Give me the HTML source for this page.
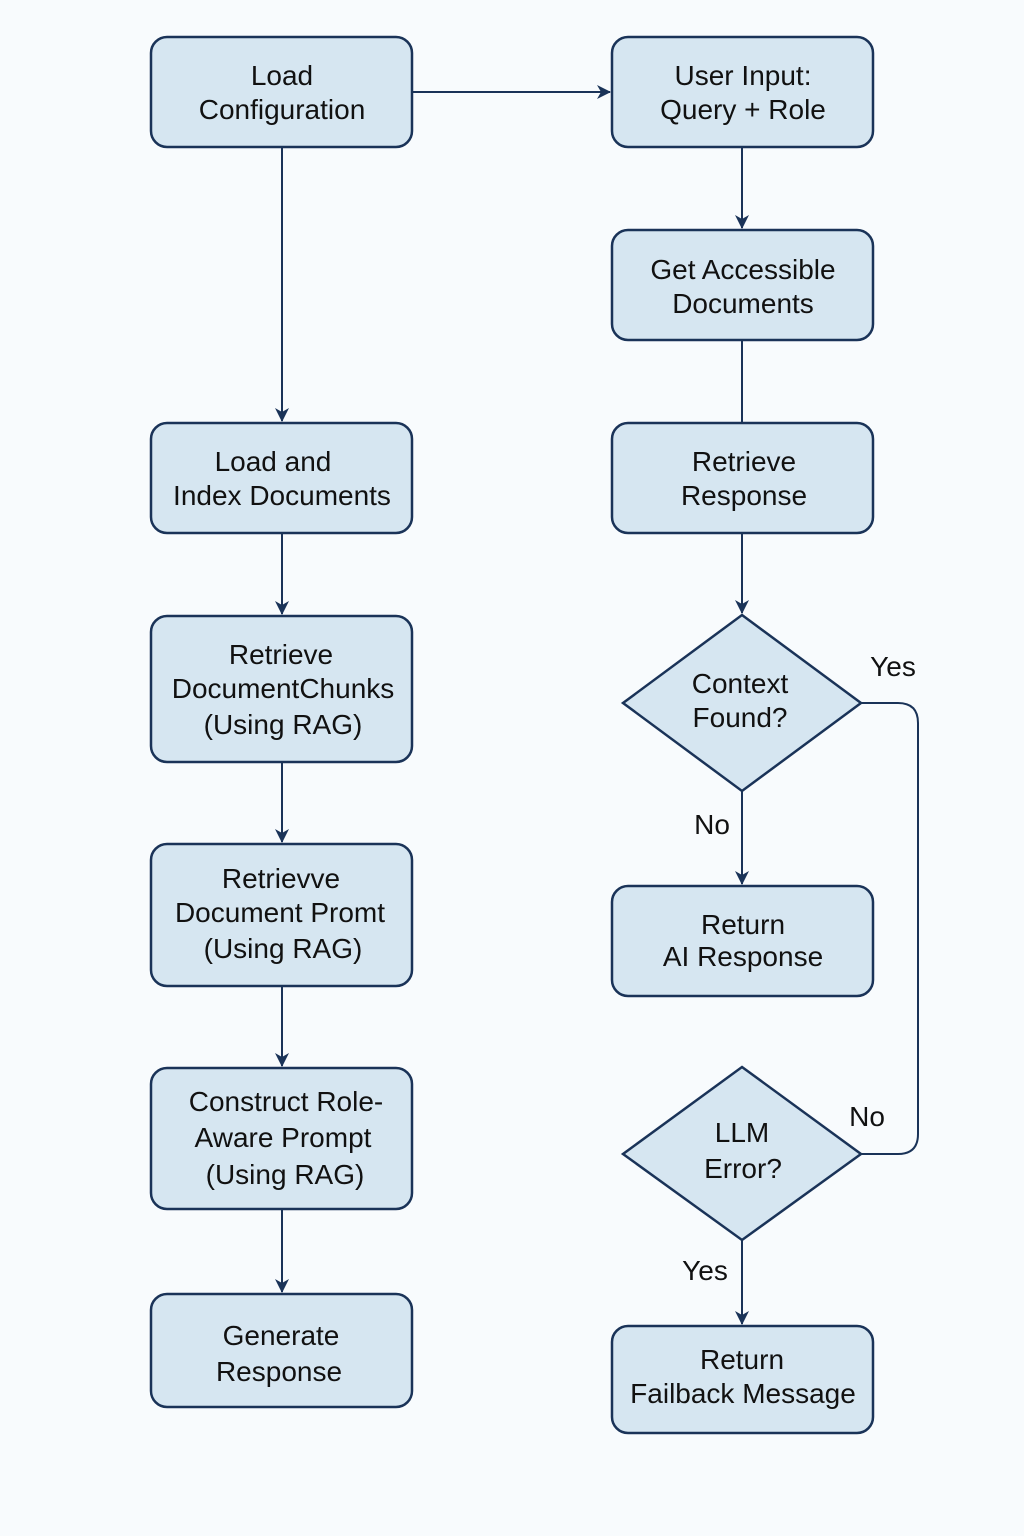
<!DOCTYPE html>
<html><head><style>
body{margin:0;background:#f8fbfd}
svg{display:block}
text{font-family:"Liberation Sans",sans-serif;font-size:28px;fill:#111;text-anchor:middle}
.b{fill:#d6e6f1;stroke:#1a3358;stroke-width:2.5}
.l{fill:none;stroke:#1a3358;stroke-width:2}
</style></head><body>
<svg width="1024" height="1536" viewBox="0 0 1024 1536">
<defs><marker id="a" markerWidth="14" markerHeight="14" refX="13" refY="7" orient="auto" markerUnits="userSpaceOnUse"><path d="M0,0 L14,7 L0,14 L4,7 Z" fill="#1a3358"/></marker></defs>
<rect class="b" x="151" y="37" width="261" height="110" rx="16"/>
<rect class="b" x="151" y="423" width="261" height="110" rx="16"/>
<rect class="b" x="151" y="616" width="261" height="146" rx="16"/>
<rect class="b" x="151" y="844" width="261" height="142" rx="16"/>
<rect class="b" x="151" y="1068" width="261" height="141" rx="16"/>
<rect class="b" x="151" y="1294" width="261" height="113" rx="16"/>
<rect class="b" x="612" y="37" width="261" height="110" rx="16"/>
<rect class="b" x="612" y="230" width="261" height="110" rx="16"/>
<rect class="b" x="612" y="423" width="261" height="110" rx="16"/>
<rect class="b" x="612" y="886" width="261" height="110" rx="16"/>
<rect class="b" x="612" y="1326" width="261" height="107" rx="16"/>
<polygon class="b" points="742,615 861,703 742,791 623,703"/>
<polygon class="b" points="742,1067 861,1154 742,1240 623,1154"/>
<path class="l" d="M412,92 H610" marker-end="url(#a)"/>
<path class="l" d="M282,147 V421" marker-end="url(#a)"/>
<path class="l" d="M282,533 V614" marker-end="url(#a)"/>
<path class="l" d="M282,762 V842" marker-end="url(#a)"/>
<path class="l" d="M282,986 V1066" marker-end="url(#a)"/>
<path class="l" d="M282,1209 V1292" marker-end="url(#a)"/>
<path class="l" d="M742,147 V228" marker-end="url(#a)"/>
<path class="l" d="M742,340 V423"/>
<path class="l" d="M742,533 V613" marker-end="url(#a)"/>
<path class="l" d="M742,791 V884" marker-end="url(#a)"/>
<path class="l" d="M742,1240 V1324" marker-end="url(#a)"/>
<path class="l" d="M861,703 H898 Q918,703 918,723 V1134 Q918,1154 898,1154 H861"/>
<text x="282" y="85">Load</text><text x="282" y="119">Configuration</text>
<text x="273" y="471">Load and</text><text x="282" y="505">Index Documents</text>
<text x="281" y="664">Retrieve</text><text x="283" y="698">DocumentChunks</text><text x="283" y="734">(Using RAG)</text>
<text x="281" y="888">Retrievve</text><text x="280" y="922">Document Promt</text><text x="283" y="958">(Using RAG)</text>
<text x="286" y="1111">Construct Role-</text><text x="283" y="1147">Aware Prompt</text><text x="285" y="1184">(Using RAG)</text>
<text x="281" y="1345">Generate</text><text x="279" y="1381">Response</text>
<text x="743" y="85">User Input:</text><text x="743" y="119">Query + Role</text>
<text x="743" y="279">Get Accessible</text><text x="743" y="313">Documents</text>
<text x="744" y="471">Retrieve</text><text x="744" y="505">Response</text>
<text x="740" y="693">Context</text><text x="740" y="727">Found?</text>
<text x="743" y="934">Return</text><text x="743" y="966">AI Response</text>
<text x="742" y="1142">LLM</text><text x="743" y="1178">Error?</text>
<text x="742" y="1369">Return</text><text x="743" y="1403">Failback Message</text>
<text x="893" y="676">Yes</text><text x="712" y="834">No</text>
<text x="867" y="1126">No</text><text x="705" y="1280">Yes</text>
</svg>
</body></html>
